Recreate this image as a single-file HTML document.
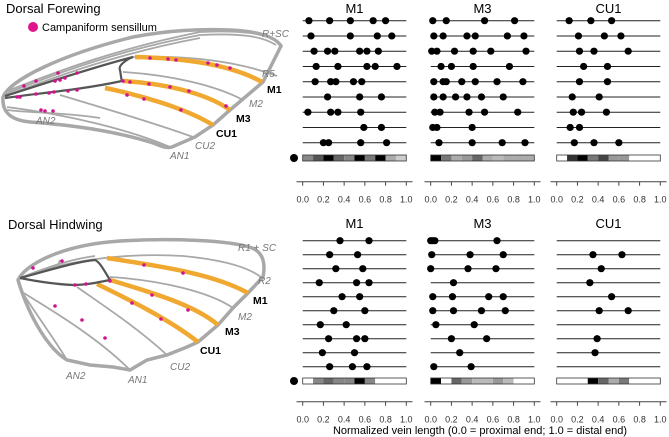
<!DOCTYPE html>
<html><head><meta charset="utf-8"><style>
html,body{margin:0;padding:0;background:#fff;width:669px;height:437px;overflow:hidden}
svg{display:block;font-family:"Liberation Sans",sans-serif}
.lab{font-size:10px;fill:#777;font-style:italic}
.labb{font-size:10.5px;fill:#000;font-weight:bold}
</style></head><body>
<svg id="fig" width="669" height="437" viewBox="0 0 669 437">
<g>
<text x="6" y="13" font-size="13">Dorsal Forewing</text>
<circle cx="33" cy="27" r="5" fill="#e0148c"/>
<text x="42" y="31" font-size="11">Campaniform sensillum</text>
<g fill="none" stroke="#a8a8a8" stroke-width="1.8">
<path d="M5,92 C60,70 120,48 200,32 C240,30 265,33 278,42"/>
<path d="M5,94 C60,72 120,50 200,35 C240,33 262,36 276,45"/>
<path d="M5,96 C60,75 120,53 200,38"/>
<path d="M133,57 C190,55 240,62 277,76"/>
<path d="M123,72 C170,75 215,85 243,100"/>
<path d="M60,95 C110,110 160,125 193,137"/>
<path d="M7,107 C70,115 130,130 170,147"/>
<path d="M7,110 C30,113 60,112 100,118"/>
</g>
<path d="M3,97 C10,80 60,55 133,37 C170,30 200,29 230,30 C255,31 275,36 281,46 L263,82 L230,110 L213,125 L195,137 L172,147 C165,149 160,145 150,142 C110,130 70,125 30,122 C8,120 2,110 3,97 Z" fill="none" stroke="#a8a8a8" stroke-width="3.5"/>
<g fill="none" stroke="#f0a830" stroke-width="4.5">
<path d="M135,57 C180,58 230,64 262,82"/>
<path d="M123,81 C160,83 205,92 230,110"/>
<path d="M105,88 C140,95 185,108 213,125"/>
</g>
<g fill="none" stroke="#555" stroke-width="2.2">
<path d="M5,98 C40,93 80,90 122,81"/>
<path d="M5,96 C50,82 90,68 133,57"/>
<path d="M133,57 C125,60 118,66 120,70 C121,75 121,79 122,81"/>
</g>
<g fill="#d0148c">
<circle cx="24" cy="86" r="1.8"/><circle cx="36" cy="81" r="1.8"/><circle cx="58" cy="73" r="1.8"/><circle cx="55" cy="81" r="1.8"/><circle cx="60" cy="80" r="1.8"/><circle cx="65" cy="78" r="1.8"/><circle cx="77" cy="73" r="1.8"/>
<circle cx="17" cy="97" r="1.8"/><circle cx="20" cy="97" r="1.8"/><circle cx="36" cy="94" r="1.8"/><circle cx="49" cy="93" r="1.8"/><circle cx="54" cy="92" r="1.8"/><circle cx="68" cy="91" r="1.8"/><circle cx="77" cy="90" r="1.8"/>
<circle cx="41" cy="110" r="1.8"/><circle cx="45" cy="111" r="1.8"/><circle cx="53" cy="111" r="1.8"/>
<circle cx="150" cy="58" r="1.8"/><circle cx="168" cy="59" r="1.8"/><circle cx="176" cy="60" r="1.8"/><circle cx="208" cy="63" r="1.8"/><circle cx="217" cy="65" r="1.8"/><circle cx="230" cy="68" r="1.8"/>
<circle cx="123" cy="81" r="1.8"/><circle cx="130" cy="82" r="1.8"/><circle cx="149" cy="84" r="1.8"/><circle cx="170" cy="87" r="1.8"/><circle cx="189" cy="91" r="1.8"/><circle cx="226" cy="106" r="1.8"/>
<circle cx="127" cy="95" r="1.8"/><circle cx="144" cy="99" r="1.8"/><circle cx="181" cy="110" r="1.8"/>
</g>
<text x="262" y="37" class="lab">R+SC</text><text x="262" y="77" class="lab">R5</text>
<text x="267" y="93" class="labb">M1</text><text x="249" y="107" class="lab">M2</text>
<text x="236" y="122" class="labb">M3</text><text x="216" y="137" class="labb">CU1</text>
<text x="195" y="149" class="lab">CU2</text><text x="170" y="159" class="lab">AN1</text><text x="36" y="124" class="lab">AN2</text>
</g>
<g>
<text x="8" y="229" font-size="13">Dorsal Hindwing</text>
<g fill="none" stroke="#a8a8a8" stroke-width="1.8">
<path d="M20,278 C60,262 120,252 183,256 C225,260 250,268 262,278"/>
<path d="M20,278 C60,262 80,258 95,256"/>
<path d="M110,277 C160,280 210,292 233,308"/>
<path d="M77,287 C110,310 140,330 167,355"/>
<path d="M22,292 C60,315 100,340 130,370"/>
<path d="M22,292 C40,320 55,340 67,360"/>
<path d="M57,267 L60,260"/>
</g>
<path d="M18,280 C25,265 60,245 120,241 C170,238 230,240 252,248 C262,252 266,262 263,277 L248,293 L233,308 L218,325 L198,342 L187,347 L167,355 L147,360 L130,370 L113,367 L90,365 L67,360 C50,350 30,320 18,280 Z" fill="none" stroke="#a8a8a8" stroke-width="3.5"/>
<g fill="none" stroke="#f0a830" stroke-width="4.5">
<path d="M107,258 C150,265 210,272 248,293"/>
<path d="M110,280 C150,292 195,305 218,325"/>
<path d="M97,284 C130,300 170,320 198,342"/>
</g>
<g fill="none" stroke="#555" stroke-width="2.2">
<path d="M20,278 C50,270 75,262 95,260 C100,262 105,272 110,280 C95,283 85,285 73,285 C50,284 30,280 20,278"/>
</g>
<g fill="#d0148c">
<circle cx="33" cy="268" r="1.8"/><circle cx="62" cy="261" r="1.8"/><circle cx="75" cy="285" r="1.8"/><circle cx="86" cy="284" r="1.8"/><circle cx="110" cy="281" r="1.8"/>
<circle cx="144" cy="265" r="1.8"/><circle cx="183" cy="273" r="1.8"/><circle cx="152" cy="295" r="1.8"/><circle cx="188" cy="310" r="1.8"/>
<circle cx="132" cy="303" r="1.8"/><circle cx="161" cy="319" r="1.8"/>
<circle cx="55" cy="306" r="1.8"/><circle cx="82" cy="320" r="1.8"/><circle cx="105" cy="338" r="1.8"/>
</g>
<text x="238" y="251" class="lab">R1 + SC</text><text x="258" y="284" class="lab">R2</text>
<text x="253" y="304" class="labb">M1</text><text x="238" y="320" class="lab">M2</text>
<text x="225" y="335" class="labb">M3</text><text x="200" y="354" class="labb">CU1</text>
<text x="170" y="370" class="lab">CU2</text><text x="128" y="383" class="lab">AN1</text><text x="66" y="379" class="lab">AN2</text>
</g>
<g id="charts"></g>
<text x="480" y="434" font-size="11" text-anchor="middle">Normalized vein length (0.0 = proximal end; 1.0 = distal end)</text>
</svg>
<script>
const panelTitles = ["M1","M3","CU1"];
const tickLabels = ["0.0","0.2","0.4","0.6","0.8","1.0"];
const foreM1 = [[.06,.26,.46,.68,.80],[.08,.46,.72,.86],[.11,.24,.31,.55,.62,.73],[.13,.34,.62,.70,.91],[.12,.27,.32,.49,.57],[.24,.55,.76],[.05,.27,.34,.56],[.59,.76],[.20,.25,.56,.81]];
const foreM3 = [[.02,.15,.52,.81],[.03,.12,.35,.43,.74,.90],[.01,.06,.23,.41,.58,.92],[.10,.20,.41,.76],[.03,.12,.15,.30,.43,.64,.89],[.03,.12,.24,.35,.49,.70],[.04,.09,.37,.52,.84],[.02,.06,.40],[.08,.40,.69,.91]];
const foreCU1 = [[.12,.33,.53],[.21,.46,.62],[.22,.36,.69],[.26,.49],[.22,.49],[.15,.41],[.16,.24,.48],[.13,.22],[.17,.36,.60]];
const hindM1 = [[.36,.64],[.26,.53],[.32,.58],[.16,.52,.64],[.38,.55],[.30,.60],[.17,.42],[.25,.52,.60],[.19,.50],[.26,.48,.62]];
const hindM3 = [[0,.02,.04,.64],[.01,.38,.70],[0,.36,.63],[.22],[.02,.21,.56,.70],[.02,.22,.49,.72],[.05,.42],[.20,.54],[.28],[.03,.39]];
const hindCU1 = [[],[.35,.63],[.43],[.32],[.53],[.41,.69],[],[.39],[.37],[]];
const heatForeM1 = [.47,.67,1,.6,.47,1,.53,1,.33,.2];
const heatForeM3 = [1,.53,.33,.4,.6,.33,.27,.33,.33,.33];
const heatForeCU1 = [0,.8,1,.53,.73,.4,.4,0,0,0];
const heatHindM1 = [0,.47,.6,.47,.47,1,.47,0,0,0];
const heatHindM3 = [1,0,.6,.4,.27,.27,.4,.27,0,0];
const heatHindCU1 = [0,0,0,1,.6,.33,.53,0,0,0];

const NS="http://www.w3.org/2000/svg";
const root=document.getElementById('charts');
function mk(tag,attrs,parent){const e=document.createElementNS(NS,tag);for(const k in attrs)e.setAttribute(k,attrs[k]);parent.appendChild(e);return e;}
const panelX0=[302.7,430.7,556.7], panelW=103.6;
function drawPanel(pi,rows,heat,cfg,prefix){
  const x=v=>panelX0[pi]+v*panelW;
  const g=mk('g',{},root);
  
  
  const t=mk('text',{x:x(0.5),y:cfg.titleY,'font-size':13,'text-anchor':'middle'},g);
  t.textContent=panelTitles[pi];
  
  
  rows.forEach((r,i)=>{
    const y=cfg.row0+i*cfg.rowStep;
    const ln=mk('line',{x1:x(0),x2:x(1),y1:y,y2:y,stroke:'#222','stroke-width':1},g);
    
    
    r.forEach(v=>{
      const c=mk('circle',{cx:x(v),cy:y,r:3.6,fill:'#000'},g);
      
      
    });
  });
  heat.forEach((h,i)=>{
    const s=Math.round(255*(1-h));
    const rc=mk('rect',{x:x(i/10),y:cfg.heatY-3,width:panelW/10,height:6,fill:`rgb(${s},${s},${s})`},g);
    
    
  });
  const bd=mk('rect',{x:x(0),y:cfg.heatY-3,width:panelW,height:6,fill:'none',stroke:'#333','stroke-width':0.8},g);
  
  
  const ax=mk('line',{x1:x(-0.06),x2:x(1.06),y1:cfg.axisY,y2:cfg.axisY,stroke:'#444','stroke-width':1},g);
  
  
  tickLabels.forEach(tl=>{
    const v=parseFloat(tl);
    mk('line',{x1:x(v),x2:x(v),y1:cfg.axisY,y2:cfg.axisY+4,stroke:'#444'},g);
    const tt=mk('text',{x:x(v),y:cfg.axisY+21,'font-size':9,fill:'#333','text-anchor':'middle'},g);
    tt.textContent=tl;
    
    
  });
}
const foreCfg={titleY:13,row0:20.7,rowStep:15.25,heatY:158,axisY:181.7};
const hindCfg={titleY:228,row0:240.7,rowStep:14.0,heatY:381,axisY:401.7};
drawPanel(0,foreM1,heatForeM1,foreCfg,'forewing');
drawPanel(1,foreM3,heatForeM3,foreCfg,'forewing');
drawPanel(2,foreCU1,heatForeCU1,foreCfg,'forewing');
drawPanel(0,hindM1,heatHindM1,hindCfg,'hindwing');
drawPanel(1,hindM3,heatHindM3,hindCfg,'hindwing');
drawPanel(2,hindCU1,heatHindCU1,hindCfg,'hindwing');
[158,381].forEach(y=>{
  const c=mk('circle',{cx:294,cy:y,r:4,fill:'#000'},root);
  
  
});
</script>
</body></html>
